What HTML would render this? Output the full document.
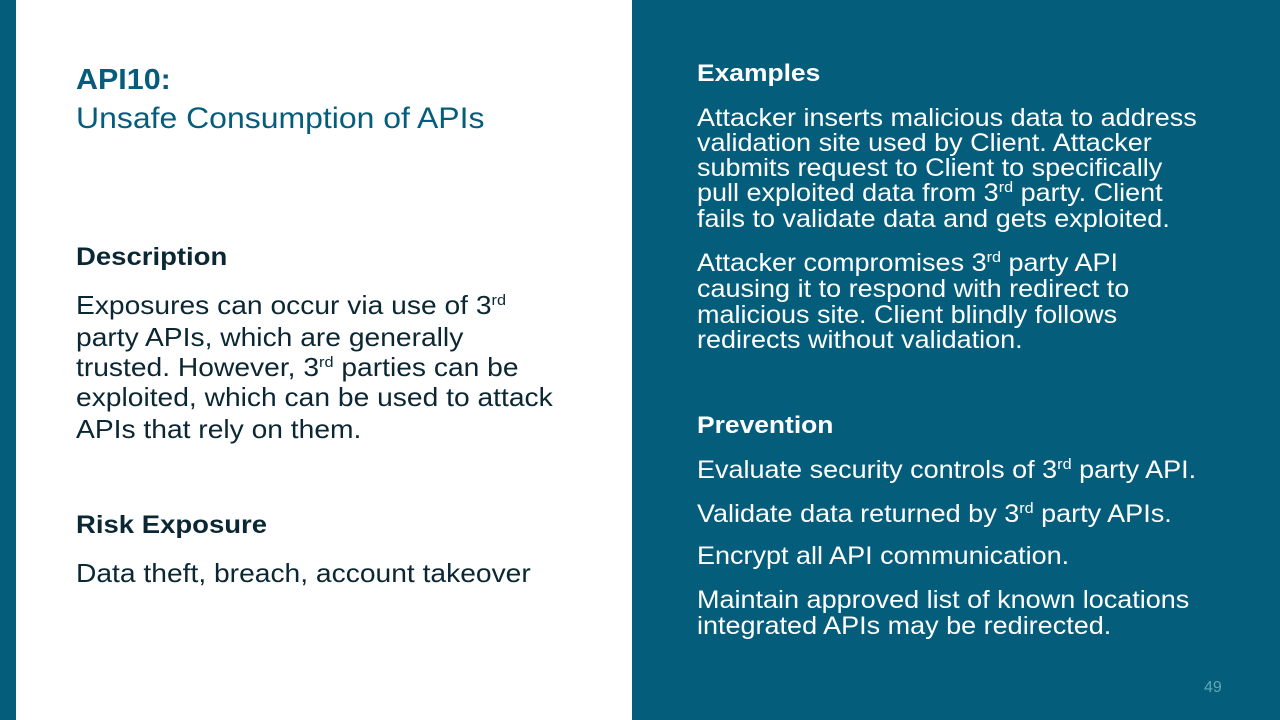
<!DOCTYPE html>
<html><head><meta charset="utf-8"><style>
*{margin:0;padding:0}
body{width:1280px;height:720px;position:relative;overflow:hidden;background:#fff;font-family:"Liberation Sans",sans-serif}
.l{position:absolute;white-space:nowrap;line-height:30px;transform-origin:0 50%}
.r{color:#fff;font-size:25px;left:697px;transform:scaleX(1.08)}
.d{color:#0b2733;font-size:26px;left:76px;transform:scaleX(1.085)}
.h{transform:scaleX(1.1)}
sup{font-size:15px;vertical-align:9px;line-height:0}
</style></head><body>
<div style="position:absolute;left:0;top:0;width:16px;height:720px;background:#055d7c"></div>
<div style="position:absolute;left:632px;top:0;width:648px;height:720px;background:#055d7c"></div>

<div class="l" style="left:76px;top:65px;font-size:29px;font-weight:bold;color:#055d7c;transform:scaleX(1.05)">API10:</div>
<div class="l" style="left:76px;top:104px;font-size:30px;color:#055d7c;transform:scaleX(1.065)">Unsafe Consumption of APIs</div>

<div class="l d h" style="top:242px;font-weight:bold;font-size:25px">Description</div>
<div class="l d" style="top:290px">Exposures can occur via use of 3<sup>rd</sup></div>
<div class="l d" style="top:322px">party APIs, which are generally</div>
<div class="l d" style="top:352px">trusted. However, 3<sup>rd</sup> parties can be</div>
<div class="l d" style="top:382px">exploited, which can be used to attack</div>
<div class="l d" style="top:414px">APIs that rely on them.</div>
<div class="l d h" style="top:510px;font-weight:bold;font-size:25px">Risk Exposure</div>
<div class="l d" style="top:558px">Data theft, breach, account takeover</div>

<div class="l r h" style="top:59px;font-weight:bold;font-size:24px">Examples</div>
<div class="l r" style="top:103px">Attacker inserts malicious data to address</div>
<div class="l r" style="top:128px">validation site used by Client. Attacker</div>
<div class="l r" style="top:153px">submits request to Client to specifically</div>
<div class="l r" style="top:178px">pull exploited data from 3<sup>rd</sup> party. Client</div>
<div class="l r" style="top:204px">fails to validate data and gets exploited.</div>
<div class="l r" style="top:248px">Attacker compromises 3<sup>rd</sup> party API</div>
<div class="l r" style="top:274px">causing it to respond with redirect to</div>
<div class="l r" style="top:300px">malicious site. Client blindly follows</div>
<div class="l r" style="top:325px">redirects without validation.</div>
<div class="l r h" style="top:411px;font-weight:bold;font-size:24px">Prevention</div>
<div class="l r" style="top:455px">Evaluate security controls of 3<sup>rd</sup> party API.</div>
<div class="l r" style="top:499px">Validate data returned by 3<sup>rd</sup> party APIs.</div>
<div class="l r" style="top:541px">Encrypt all API communication.</div>
<div class="l r" style="top:585px">Maintain approved list of known locations</div>
<div class="l r" style="top:611px">integrated APIs may be redirected.</div>
<div class="l" style="left:1204px;top:673px;font-size:16px;color:#5fa8b8">49</div>
</body></html>
